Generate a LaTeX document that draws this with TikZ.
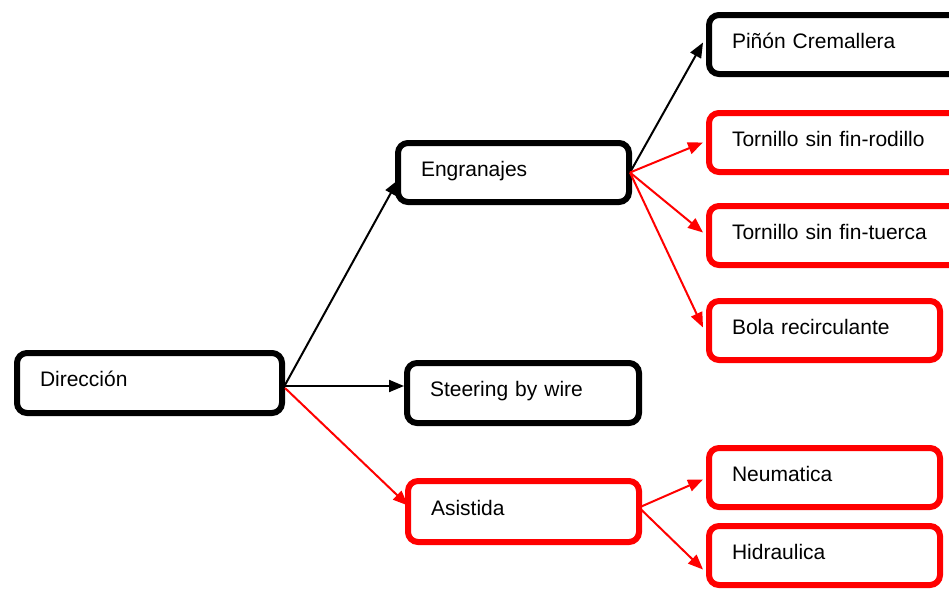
\documentclass[tikz,border=0pt]{standalone}
\usepackage{fontspec}
\setmainfont{Liberation Sans}
\usetikzlibrary{arrows.meta,calc}
\definecolor{myred}{RGB}{255,0,0}
\tikzset{
  box/.style={draw=black, line width=6pt, rounded corners=10pt, fill=white,
    minimum height=60pt, inner xsep=23pt, inner ysep=0pt, align=left,
    text height=16pt, text depth=9pt,
    font=\fontsize{21}{25}\selectfont, text=black},
  redbox/.style={box, draw=myred},
  conn/.style={line width=2pt, -{Triangle[length=15pt,width=12pt]}},
  redconn/.style={conn, draw=myred, fill=myred},
}
\begin{document}
\begin{tikzpicture}[x=1pt,y=-1pt]
\clip (0,0) rectangle (949,589);
\useasboundingbox (0,0) rectangle (949,589);
% boxes (centerline geometry)
\node[box, text width=219pt] (dir) at (149.5,383) {Dirección};
\node[box, text width=185pt, minimum height=59pt] (eng) at (513.5,172.5) {Engranajes};
\node[box, text width=186pt] (stw) at (523,393) {Steering by wire};
\node[redbox, text width=185pt, minimum height=61pt] (asi) at (523.5,511.5) {Asistida};
\node[box, text width=217pt, minimum height=59pt] (pin) at (840.5,44.5) {Piñón Cremallera};
\node[redbox, text width=217pt, minimum height=59pt] (rod) at (840.5,142.5) {Tornillo sin fin-rodillo};
\node[redbox, text width=217pt, minimum height=59pt] (tue) at (840.5,235.5) {Tornillo sin fin-tuerca};
\node[redbox, text width=185pt, minimum height=59pt] (bol) at (824.5,330.5) {Bola recirculante};
\node[redbox, text width=185pt, minimum height=59pt] (neu) at (824.5,477.5) {Neumatica};
\node[redbox, text width=185pt, minimum height=59pt] (hid) at (824.5,555.5) {Hidraulica};
% connectors from Direccion
\draw[conn] ($(dir.east)+(0,2)$) -- ($(eng.south west)+(3,-25)$);
\draw[conn] ($(dir.east)+(0,3)$) -- ($(stw.west)+(0,-7)$);
\draw[redconn] ($(dir.east)+(0,5)$) -- ($(asi.west)+(3,-6)$);
% connectors from Engranajes
\draw[conn] ($(eng.east)+(-2,0)$) -- ($(pin.west)+(-3,-2)$);
\draw[redconn] ($(eng.east)+(-2,0)$) -- ($(rod.west)+(-3,0)$);
\draw[redconn] ($(eng.east)+(-2,0)$) -- ($(tue.west)+(-3,-3)$);
\draw[redconn] ($(eng.east)+(-2,0)$) -- ($(bol.west)+(-3,-3)$);
% connectors from Asistida
\draw[redconn] ($(asi.east)+(-3,-4)$) -- ($(neu.west)+(-3,2)$);
\draw[redconn] ($(asi.east)+(-3,-4)$) -- ($(hid.west)+(-3,14)$);
\end{tikzpicture}
\end{document}
